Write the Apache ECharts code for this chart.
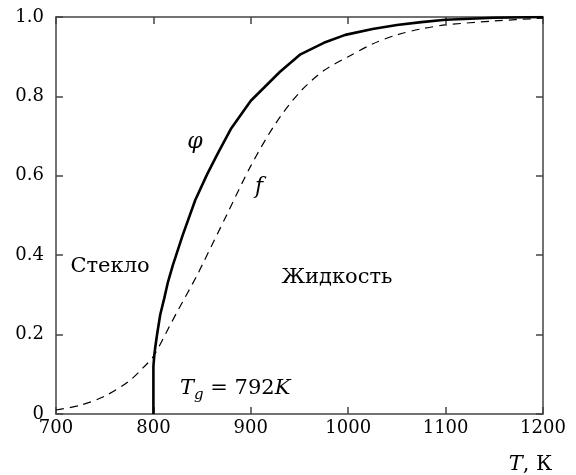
<!DOCTYPE html>
<html>
<head>
<meta charset="utf-8">
<script src="https://cdn.jsdelivr.net/npm/echarts@6/dist/echarts.min.js"></script>
<style>html,body{margin:0;padding:0;background:#fff;}#c{width:576px;height:475px;}</style>
</head>
<body>
<div id="c"></div>
<script>
// Temperatures (K) and values
var phiT   = [800, 800, 801, 802, 804, 807, 811, 815, 820, 830, 843, 855, 866, 880, 900, 930, 951, 975, 997, 1025, 1050, 1075, 1100, 1150, 1200];
var phiVal = [0, 0.12, 0.15, 0.17, 0.204, 0.25, 0.29, 0.333, 0.375, 0.45, 0.539, 0.603, 0.656, 0.72, 0.789, 0.862, 0.906, 0.935, 0.955, 0.97, 0.98, 0.987, 0.993, 0.998, 1.0];
var fT     = [700, 725, 750, 775, 790, 800, 818, 825, 845, 850, 875, 900, 925, 950, 975, 1000, 1025, 1050, 1075, 1100, 1150, 1200];
var fVal   = [0.01, 0.022, 0.045, 0.083, 0.118, 0.145, 0.228, 0.26, 0.35, 0.375, 0.5, 0.625, 0.73, 0.81, 0.865, 0.9, 0.932, 0.955, 0.97, 0.98, 0.99, 0.997];
var xTicks = [700, 800, 900, 1000, 1100, 1200];
var yTickLabels = ['0', '0.2', '0.4', '0.6', '0.8', '1.0'];

function zip(a, b) { return a.map(function (v, i) { return [v, b[i]]; }); }

var FONT = 'DejaVu Serif';
var axisCol = '#444';

var chart = echarts.init(document.getElementById('c'), null, {renderer: 'canvas'});
var xMin = xTicks[0], xMax = xTicks[xTicks.length - 1];
var baseX = {
  type: 'value', min: xMin, max: xMax, interval: 100,
  axisLine: {show: true, onZero: false, lineStyle: {color: axisCol, width: 1.5}},
  axisTick: {show: true, inside: true, length: 7, lineStyle: {color: axisCol, width: 1.5}},
  splitLine: {show: false}
};
var baseY = {
  type: 'value', min: 0, max: 1, interval: 0.2,
  axisLine: {show: true, onZero: false, lineStyle: {color: axisCol, width: 1.5}},
  axisTick: {show: true, inside: true, length: 7, lineStyle: {color: axisCol, width: 1.5}},
  splitLine: {show: false}
};
chart.setOption({
  animation: false,
  backgroundColor: '#fff',
  grid: {left: 56, right: 33, top: 17, bottom: 61, containLabel: false, outerBoundsMode: 'none'},
  xAxis: [
    Object.assign({}, baseX, {
      position: 'bottom',
      axisLabel: {show: true, color: '#000', fontFamily: FONT, fontSize: 18, margin: 5,
        formatter: function (v) { return String(v); }},
      name: '{i|T}, К',
      nameLocation: 'middle',
      nameGap: 40,
      nameTextStyle: {color: '#000', fontFamily: FONT, fontSize: 21, padding: [0, 0, 0, 462],
        rich: {i: {fontStyle: 'italic', fontFamily: FONT, fontSize: 21, color: '#000'}}}
    }),
    Object.assign({}, baseX, {position: 'top', axisLabel: {show: false}})
  ],
  yAxis: [
    Object.assign({}, baseY, {
      position: 'left',
      axisLabel: {show: true, color: '#000', fontFamily: FONT, fontSize: 18, margin: 12,
        formatter: function (v) { return yTickLabels[Math.round(v / 0.2)]; }}
    }),
    Object.assign({}, baseY, {position: 'right', axisLabel: {show: false}})
  ],
  series: [
    {
      name: 'φ', type: 'line', data: zip(phiT, phiVal), showSymbol: false,
      lineStyle: {color: '#000', width: 2.6}, z: 3
    },
    {
      name: 'f', type: 'line', data: zip(fT, fVal), showSymbol: false, smooth: 0.3,
      lineStyle: {color: '#000', width: 1.2, type: [8, 6]}, z: 2
    }
  ],
  graphic: [
    {type: 'text', style: {text: 'Стекло', x: 110, y: 267, textAlign: 'center', textVerticalAlign: 'middle',
      fontFamily: FONT, fontSize: 21, fill: '#000'}},
    {type: 'text', style: {text: 'Жидкость', x: 337, y: 278, textAlign: 'center', textVerticalAlign: 'middle',
      fontFamily: FONT, fontSize: 21, fill: '#000'}},
    {type: 'text', style: {text: 'φ', x: 195, y: 142, textAlign: 'center', textVerticalAlign: 'middle',
      fontFamily: FONT, fontStyle: 'italic', fontSize: 22, fill: '#000'}},
    {type: 'text', style: {text: 'f', x: 259, y: 187, textAlign: 'center', textVerticalAlign: 'middle',
      fontFamily: FONT, fontStyle: 'italic', fontSize: 22, fill: '#000'}},
    {type: 'text', style: {
      text: '{i|T}{s|g}{n| = 792}{i|K}', x: 180, y: 389, textAlign: 'left', textVerticalAlign: 'middle',
      rich: {
        i: {fontFamily: FONT, fontStyle: 'italic', fontSize: 21, fill: '#000', color: '#000'},
        s: {fontFamily: FONT, fontStyle: 'italic', fontSize: 15, fill: '#000', color: '#000', padding: [12, 0, 0, 0]},
        n: {fontFamily: FONT, fontSize: 21, fill: '#000', color: '#000'}
      }}}
  ]
});
</script>
</body>
</html>
